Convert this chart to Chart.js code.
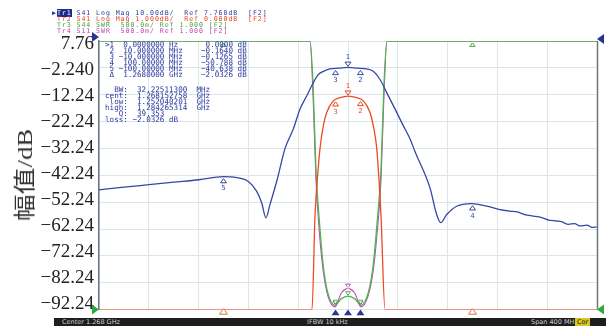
<!DOCTYPE html>
<html>
<head>
<meta charset="utf-8">
<script src="https://cdn.jsdelivr.net/npm/chart.js@4.4.0/dist/chart.umd.min.js"></script>
<style>
  body { margin: 0; background: #fff; }
  #wrap { position: relative; width: 606px; height: 326px; overflow: hidden; background: #fff; }
  #chart { position: absolute; left: 0; top: 0; }
  .hdr { position: absolute; left: 52px; font: 6.6px "DejaVu Sans Mono", monospace; letter-spacing: 0.93px;
         line-height: 6px; white-space: pre; margin: 0; }
  .hdr b { font-weight: normal; background: #1c2a8c; color: #fff; }
  .mk { position: absolute; left: 105px; font: 7.6px "DejaVu Sans Mono", monospace; color: #2a3a9e;
        white-space: pre; margin: 0; }
  #ytitle { position: absolute; left: 22px; top: 175px; transform: translate(-50%, -50%) rotate(-90deg) scale(1.22, 1);
            font: 22px "Liberation Serif", "Noto Sans CJK SC", serif; color: #333; white-space: nowrap; }
  #foot { position: absolute; left: 54px; top: 318px; width: 552px; height: 8px; background: #1e1e1e; }
  #foot span { position: absolute; top: 0; font: 6.5px "DejaVu Sans", sans-serif; color: #ccc; line-height: 8px; }
</style>
</head>
<body>
<div id="wrap">
  <canvas id="chart" width="606" height="326"></canvas>
  <pre class="hdr" style="top:10px;color:#2a3a9e">▶<b>Tr1</b> S41 Log Mag 10.00dB/  Ref 7.760dB  [F2]</pre>
  <pre class="hdr" style="top:16px;color:#e8441e"> Tr2 S41 Log Mag 1.000dB/  Ref 0.000dB  [F2]</pre>
  <pre class="hdr" style="top:22px;color:#3aa83a"> Tr3 S44 SWR  500.0m/ Ref 1.000 [F2]</pre>
  <pre class="hdr" style="top:28px;color:#c43cb4"> Tr4 S11 SWR  500.0m/ Ref 1.000 [F2]</pre>
  <pre class="mk" id="mkTop" style="top:42px;line-height:6.1px"></pre>
  <pre class="mk" id="mkBw" style="top:87px;line-height:5.95px"></pre>
  <div id="ytitle">幅值/dB</div>
  <div id="foot">
    <span style="left:8px">Center 1.268 GHz</span>
    <span style="left:253px">IFBW 10 kHz</span>
    <span style="left:477px">Span 400 MHz</span>
    <span style="left:521px;background:#d8c81c;color:#222;padding:0 2px">Cor</span>
  </div>
</div>
<script>
// frequency axis: center 1.268 GHz, span 400 MHz
const freqMin = 1.068;
const freqMax = 1.468;
const freqTicks = [1.068, 1.108, 1.148, 1.188, 1.228, 1.268, 1.308, 1.348, 1.388, 1.428, 1.468];

// left axis (Tr1, 10 dB/div)
const yTicks = [7.76, -2.24, -12.24, -22.24, -32.24, -42.24, -52.24, -62.24, -72.24, -82.24, -92.24];
const yTickLabels = ["7.76", "\u22122.240", "\u221212.24", "\u221222.24", "\u221232.24", "\u221242.24",
                     "\u221252.24", "\u221262.24", "\u221272.24", "\u221282.24", "\u221292.24"];

// Tr1  S41 log mag (dB)
const s41Freq = [1.0680, 1.0881, 1.1082, 1.1282, 1.1483, 1.1678, 1.1786, 1.1879, 1.1947, 1.1987,
                 1.2021, 1.2053, 1.2107, 1.2174, 1.2241, 1.2294, 1.2348, 1.2401, 1.2441, 1.2482,
                 1.2535, 1.2608, 1.2680, 1.2752, 1.2830, 1.2883, 1.2937, 1.2991, 1.3058, 1.3124,
                 1.3178, 1.3218, 1.3339, 1.3392, 1.3425, 1.3473, 1.3553, 1.3674, 1.3794, 1.3890,
                 1.3981, 1.4040, 1.4100, 1.4168, 1.4230, 1.4290, 1.4356, 1.4400, 1.4450, 1.4500,
                 1.4543, 1.4600, 1.4640, 1.4678];
const s41Db =   [-47.64, -46.65, -45.73, -44.81, -43.89, -42.72, -43.09, -44.56, -48.23, -52.53,
                 -58.05, -53.16, -44.56, -32.31, -24.96, -17.61, -12.72, -7.79, -4.74, -3.53,
                 -2.64, -2.35, -2.03, -2.35, -2.64, -3.53, -6.58, -11.47, -17.61, -23.75,
                 -28.64, -33.42, -47.02, -56.84, -59.89, -56.84, -53.75, -52.79, -53.75, -54.9,
                 -55.59, -55.9, -56.9, -57.42, -57.9, -58.9, -59.26, -59.6, -60.5, -60.2,
                 -61.1, -60.8, -61.6, -61.47];

// Tr2  S41 log mag on 1 dB/div, ref 0 dB at top (clipped at -10)
const s41FineFreq = [1.0680, 1.2391, 1.2415, 1.2441, 1.2455, 1.2482, 1.2509, 1.2562, 1.2616, 1.2682,
                     1.2750, 1.2803, 1.2857, 1.2883, 1.2911, 1.2945, 1.2977, 1.4680];
const s41FineDb =   [-10, -10, -6.5, -4.74, -4.01, -3.15, -2.66, -2.23, -2.11, -2.05,
                     -2.11, -2.23, -2.66, -3.15, -4.01, -6.5, -10, -10];

// Tr3  S44 SWR and Tr4  S11 SWR (ref 1.000 at bottom, 0.5/div, clipped at 6)
const swrFreq = [1.0680, 1.2375, 1.2399, 1.2423, 1.2455, 1.2482, 1.2519, 1.2576, 1.2624, 1.2680,
                 1.2736, 1.2784, 1.2841, 1.2881, 1.2913, 1.2945, 1.2969, 1.2993, 1.4680];
const s44Swr =  [6, 6, 5.2, 3.6, 2.5, 1.8, 1.3, 1.08, 1.2, 1.25, 1.2, 1.08, 1.3, 1.8, 2.6, 3.6, 5.2, 6, 6];
const s11Swr =  [6, 6, 5.0, 3.4, 2.3, 1.7, 1.25, 1.05, 1.3, 1.39, 1.3, 1.05, 1.25, 1.7, 2.4, 3.4, 5.0, 6, 6];

// markers (offsets from marker 1)
const markerFreq = [1.268, 1.278, 1.258, 1.368, 1.168];
const markerName = ["1", "2", "3", "4", "5"];

const markerRows = [
  ">1  0.0000000 Hz      0.0000 dB",
  " 2  10.000000 MHz    \u22120.1640 dB",
  " 3 \u221210.000000 MHz    \u22120.1265 dB",
  " 4  100.00000 MHz    \u221250.788 dB",
  " 5 \u2212100.00000 MHz    \u221240.638 dB",
  " \u0394  1.2680000 GHz    \u22122.0326 dB"
];
const bwRows = [
  "  BW:  32.22511300  MHz",
  "cent:  1.268152758  GHz",
  " low:  1.252040201  GHz",
  "high:  1.284265314  GHz",
  "   Q:  39.353",
  "loss: \u22122.0326 dB"
];
document.getElementById("mkTop").textContent = markerRows.join("\n");
document.getElementById("mkBw").textContent = bwRows.join("\n");

const BLUE = "#3447a6", RED = "#ea4a22", GREEN = "#4cb84c", PINK = "#c845c0";

function pts(xs, ys) { return xs.map((x, i) => ({ x, y: ys[i] })); }

function interp(xs, ys, f) {
  for (let i = 1; i < xs.length; i++) {
    if (f <= xs[i]) {
      const t = (f - xs[i - 1]) / (xs[i] - xs[i - 1]);
      return ys[i - 1] + t * (ys[i] - ys[i - 1]);
    }
  }
  return ys[ys.length - 1];
}

function tri(ctx, x, y, dir, size, fill, stroke) {
  ctx.beginPath();
  if (dir === "down") { ctx.moveTo(x, y); ctx.lineTo(x - size, y - size * 1.4); ctx.lineTo(x + size, y - size * 1.4); }
  else if (dir === "up") { ctx.moveTo(x, y); ctx.lineTo(x - size, y + size * 1.4); ctx.lineTo(x + size, y + size * 1.4); }
  else if (dir === "right") { ctx.moveTo(x, y); ctx.lineTo(x - size * 1.4, y - size); ctx.lineTo(x - size * 1.4, y + size); }
  else { ctx.moveTo(x, y); ctx.lineTo(x + size * 1.4, y - size); ctx.lineTo(x + size * 1.4, y + size); }
  ctx.closePath();
  if (fill) { ctx.fillStyle = fill; ctx.fill(); }
  if (stroke) { ctx.strokeStyle = stroke; ctx.lineWidth = 1; ctx.stroke(); }
}

// marker symbols, reference arrows and frame
const markerPlugin = {
  id: "markers",
  afterDatasetsDraw(chart) {
    const { ctx, chartArea: a, scales } = chart;
    const xs = scales.x;
    ctx.save();
    ctx.font = "7px 'DejaVu Sans', sans-serif";
    ctx.textAlign = "center";
    ctx.textBaseline = "middle";

    // right frame line
    ctx.strokeStyle = "#6b7580";
    ctx.lineWidth = 1.5;
    ctx.beginPath(); ctx.moveTo(a.right + 0.5, a.top); ctx.lineTo(a.right + 0.5, a.bottom); ctx.stroke();

    const traces = [
      { xs: s41Freq, ys: s41Db, scale: scales.y, color: BLUE },
      { xs: s41FineFreq, ys: s41FineDb, scale: scales.y2, color: RED }
    ];
    traces.forEach(t => {
      markerFreq.forEach((f, i) => {
        const px = xs.getPixelForValue(f);
        const py = t.scale.getPixelForValue(interp(t.xs, t.ys, f));
        if (py > a.bottom - 2) return;
        if (i === 0) {
          tri(ctx, px, py - 1, "down", 3, "#fff", t.color);
          ctx.fillStyle = t.color;
          ctx.fillText(markerName[i], px, py - 10);
        } else {
          tri(ctx, px, py + 2, "up", 3, "#fff", t.color);
          ctx.fillStyle = t.color;
          ctx.fillText(markerName[i], px, py + 12);
        }
      });
    });

    // SWR markers: 1-3 in the passband, 4-5 clipped at the top (green drawn last)
    [[s11Swr, PINK], [s44Swr, GREEN]].forEach(([vals, c]) => {
      markerFreq.forEach((f, i) => {
        const px = xs.getPixelForValue(f);
        const py = scales.y3.getPixelForValue(interp(swrFreq, vals, f));
        ctx.fillStyle = c;
        if (i < 3) {
          tri(ctx, px, py - 1, "down", 2.5, "#fff", c);
          ctx.fillText(markerName[i], px, py - 8);
        } else {
          tri(ctx, px, py + 2, "up", 2.5, "#fff", c);
          ctx.fillText(markerName[i], px, py + 11);
        }
      });
    });

    // marker position indicators under the axis
    markerFreq.forEach((f, i) => {
      const px = xs.getPixelForValue(f);
      if (i < 3) tri(ctx, px, a.bottom, "up", 4, "#2a3690", null);
      else tri(ctx, px, a.bottom - 1, "up", 4, "#fff", "#e07040");
    });

    // reference level arrows
    tri(ctx, a.left, a.top - 4, "right", 5, "#28348e", null);
    tri(ctx, a.right, a.top - 2, "left", 5, "#28348e", null);
    tri(ctx, a.left, a.bottom, "right", 5, "#2eaa3a", null);
    tri(ctx, a.right, a.bottom, "left", 5, "#2eaa3a", null);
    ctx.restore();
  }
};

new Chart(document.getElementById("chart"), {
  type: "line",
  data: {
    datasets: [
      { label: "Tr1 S41", data: pts(s41Freq, s41Db), yAxisID: "y", borderColor: BLUE, borderWidth: 1.3,
        pointRadius: 0, cubicInterpolationMode: "monotone" },
      { label: "Tr2 S41", data: pts(s41FineFreq, s41FineDb), yAxisID: "y2", borderColor: RED, borderWidth: 1.3,
        pointRadius: 0, cubicInterpolationMode: "monotone" },
      { label: "Tr3 S44", data: pts(swrFreq, s44Swr), yAxisID: "y3", borderColor: GREEN, borderWidth: 1.3,
        pointRadius: 0, cubicInterpolationMode: "monotone" },
      { label: "Tr4 S11", data: pts(swrFreq, s11Swr), yAxisID: "y3", borderColor: PINK, borderWidth: 1.1,
        pointRadius: 0, cubicInterpolationMode: "monotone" }
    ]
  },
  options: {
    responsive: false,
    animation: false,
    layout: { padding: { left: 0, right: 9, top: 41, bottom: 13 } },
    plugins: { legend: { display: false }, tooltip: { enabled: false } },
    scales: {
      x: {
        type: "linear", min: freqMin, max: freqMax,
        afterBuildTicks: s => { s.ticks = freqTicks.map(v => ({ value: v })); },
        afterFit: s => { s.height = 0; },
        ticks: { display: false },
        grid: { color: "#dbe5ec", drawTicks: false },
        border: { display: false }
      },
      // grid + frame for the 10 dB/div trace
      y: {
        position: "left", weight: 0,
        min: -92.24, max: 7.76,
        afterBuildTicks: s => { s.ticks = yTicks.map(v => ({ value: v })); },
        afterFit: s => { s.width = 0; },
        ticks: { display: false },
        grid: { color: "#dbe5ec", drawTicks: false },
        border: { display: true, color: "#6b7580", width: 1.5 }
      },
      // tick labels, spaced slightly tighter than the grid as in the screenshot
      yl: {
        position: "left", weight: 1,
        min: -94.52, max: 8.90,
        afterBuildTicks: s => { s.ticks = yTicks.map(v => ({ value: v })); },
        afterFit: s => { s.width = 99; },
        ticks: {
          padding: 5, color: "#222",
          font: { family: "'Liberation Serif', serif", size: 19 },
          callback: (v, i) => yTickLabels[i]
        },
        grid: { display: false, drawTicks: false },
        border: { display: false }
      },
      y2: { min: -10, max: 0, display: false },
      y3: { min: 1, max: 6, display: false }
    }
  },
  plugins: [markerPlugin]
});
</script>
</body>
</html>
